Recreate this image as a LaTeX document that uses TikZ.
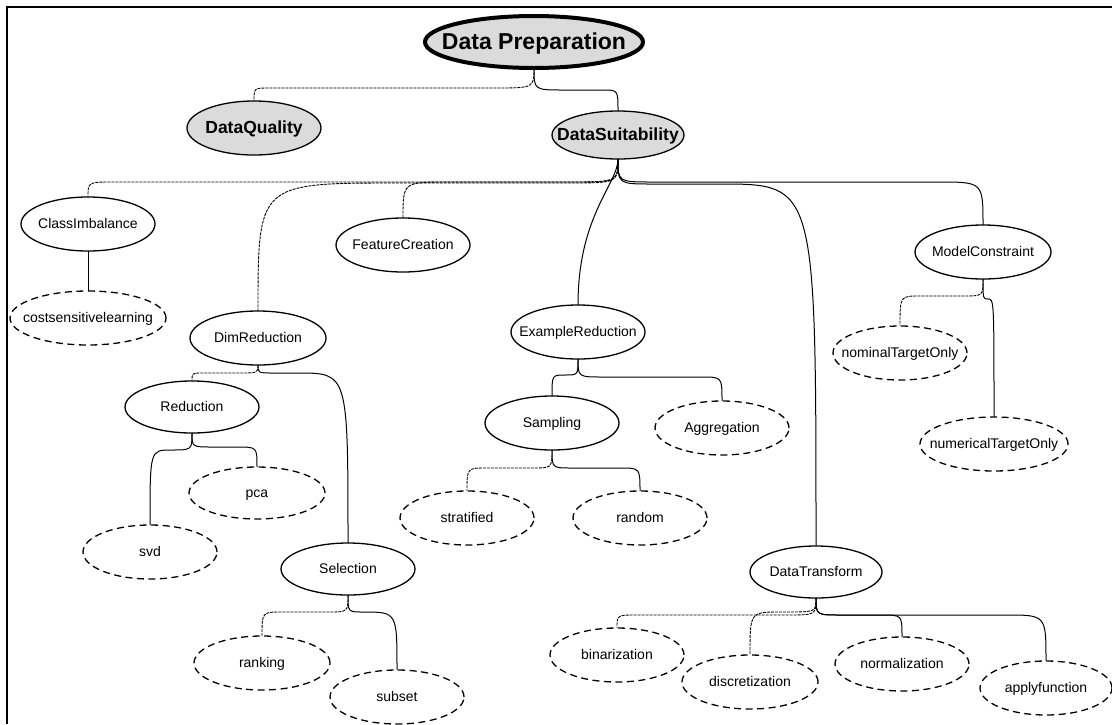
\documentclass[tikz,border=0pt]{standalone}
\usepackage{fontspec}
\setmainfont{Liberation Sans}
\usetikzlibrary{shapes.geometric,calc}

\tikzset{
  concept/.style={ellipse, draw, line width=1.3pt, inner sep=0pt, outer sep=0pt,
    minimum width=134pt, minimum height=54pt, font=\fontsize{14}{16}\selectfont},
  leaf/.style={concept, dash pattern=on 7pt off 4.5pt},
  topbox/.style={concept, fill=black!14, font=\bfseries\fontsize{17.5}{20}\selectfont},
  rootbox/.style={topbox, line width=4pt, font=\bfseries\fontsize{23}{26}\selectfont},
  ell/.style 2 args={minimum width=#1pt, minimum height=#2pt},
  solidlink/.style={line width=1pt},
  faintlink/.style={line width=0.9pt, dash pattern=on 3pt off 1pt},
}
% label centred on the node without changing the ellipse size
\newcommand\lbl[1]{\raisebox{-0.33em}[0pt][0pt]{\makebox[0pt]{#1}}}
% org-chart connector: parent, child, drop to the horizontal run, corner radii
\newcommand\lnk[6][solidlink]{%
  \draw[#1] let \p1=(#2.south), \p2=(#3.north), \n1={sign(\x2-\x1)} in
    (\p1) .. controls (\x1,\y1-#4pt) .. (\x1+\n1*#5pt,\y1-#4pt)
    -- (\x2-\n1*#6pt,\y1-#4pt) .. controls (\x2,\y1-#4pt) .. (\p2);
}

\begin{document}
\begin{tikzpicture}[x=1pt, y=-1pt]
\useasboundingbox (0,0) rectangle (1112,724);
% frame
\draw[line width=2pt] (7,724) -- (7,7) -- (1112,7);

% nodes
\node[rootbox, ell={218}{52}] (dp) at (534,42) {\lbl{Data Preparation}};
\node[topbox] (dq) at (254,128) {\lbl{DataQuality}};
\node[topbox, ell={132}{48}] (ds) at (618,135) {\lbl{DataSuitability}};

\node[concept] (ci) at (88,224) {\lbl{ClassImbalance}};
\node[leaf, ell={156}{54}] (cs) at (88,318) {\lbl{costsensitivelearning}};
\node[concept] (fc) at (403,245) {\lbl{FeatureCreation}};
\node[concept, ell={136}{54}] (dr) at (258,338) {\lbl{DimReduction}};
\node[concept] (er) at (578,332) {\lbl{ExampleReduction}};
\node[concept, ell={136}{54}] (mc) at (983,252) {\lbl{ModelConstraint}};
\node[leaf] (nom) at (900,353) {\lbl{nominalTargetOnly}};
\node[leaf, ell={148}{54}] (num) at (994,444) {\lbl{numericalTargetOnly}};

\node[concept, ell={134}{52}] (red) at (192,407) {\lbl{Reduction}};
\node[leaf, ell={136}{52}] (pca) at (257,493) {\lbl{pca}};
\node[leaf] (svd) at (150,552) {\lbl{svd}};
\node[concept, ell={134}{52}] (sel) at (348,569) {\lbl{Selection}};
\node[leaf, ell={136}{54}] (rank) at (262,663) {\lbl{ranking}};
\node[leaf] (sub) at (397,697) {\lbl{subset}};

\node[concept] (samp) at (552,423) {\lbl{Sampling}};
\node[leaf] (agg) at (722,428) {\lbl{Aggregation}};
\node[leaf] (strat) at (467,518) {\lbl{stratified}};
\node[leaf] (rand) at (640,518) {\lbl{random}};

\node[concept, ell={132}{52}] (dt) at (816,572) {\lbl{DataTransform}};
\node[leaf] (bin) at (617,655) {\lbl{binarization}};
\node[leaf, ell={136}{54}] (disc) at (750,682) {\lbl{discretization}};
\node[leaf] (norm) at (902,664) {\lbl{normalization}};
\node[leaf, ell={132}{54}] (app) at (1046,688) {\lbl{applyfunction}};

% connectors
\lnk[faintlink]{dp}{dq}{20}{40}{15}
\lnk{dp}{ds}{22}{30}{15}

\lnk[faintlink]{ds}{ci}{23}{50}{25}
\lnk[faintlink]{ds}{dr}{24}{50}{140}
\lnk[faintlink]{ds}{fc}{23}{50}{45}
\draw[solidlink] (ds.south) .. controls +(0,25) and +(0,-90) .. (er.north);
\lnk{ds}{dt}{25}{35}{96}
\lnk{ds}{mc}{23}{35}{45}

\draw[solidlink] (ci.south) -- (cs.north);

\lnk[faintlink]{dr}{red}{8}{20}{10}
\lnk{dr}{sel}{8}{15}{50}
\lnk{red}{svd}{17}{21}{21}
\lnk{red}{pca}{14}{20}{20}
\lnk[faintlink]{sel}{rank}{17}{20}{20}
\lnk{sel}{sub}{17}{15}{34}

\lnk{er}{samp}{16}{13}{13}
\lnk{er}{agg}{18}{25}{20}
\lnk[faintlink]{samp}{strat}{18}{20}{20}
\lnk{samp}{rand}{18}{20}{20}

\lnk[faintlink]{mc}{nom}{17}{20}{20}
\lnk{mc}{num}{20}{5}{6}

\lnk[faintlink]{dt}{bin}{17}{30}{20}
\lnk[faintlink]{dt}{disc}{14}{30}{30}
\lnk{dt}{norm}{17}{25}{20}
\lnk{dt}{app}{17}{25}{40}
\end{tikzpicture}
\end{document}
